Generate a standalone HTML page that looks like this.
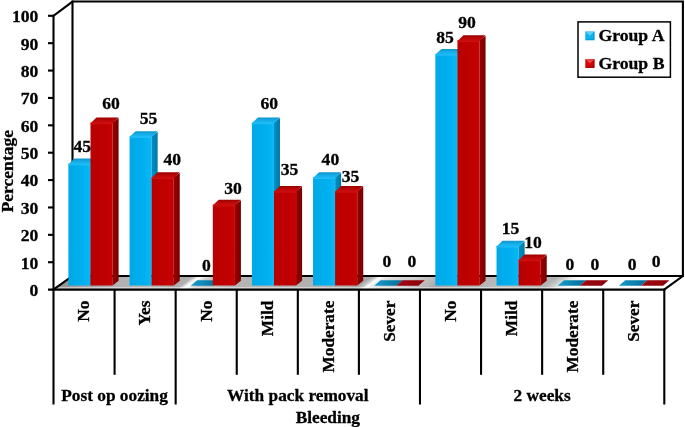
<!DOCTYPE html><html><head><meta charset="utf-8"><title>Chart</title><style>html,body{margin:0;padding:0;background:#fff}svg{display:block}text{font-family:"Liberation Serif",serif;font-weight:bold;fill:#000;stroke:#000;stroke-width:0.3px}</style></head><body>
<svg width="685" height="427" viewBox="0 0 685 427">
<defs>
<linearGradient id="fl" gradientUnits="userSpaceOnUse" x1="53.5" y1="289.7" x2="275.2" y2="590.5"><stop offset="-0.0008" stop-color="#939393"/><stop offset="0.0421" stop-color="#a2a2a2"/><stop offset="0.0897" stop-color="#b2b2b2"/><stop offset="0.1532" stop-color="#b6b6b6"/><stop offset="0.1849" stop-color="#acacac"/><stop offset="0.1944" stop-color="#b4b4b4"/><stop offset="0.2000" stop-color="#e4e4e4"/><stop offset="0.2048" stop-color="#ffffff"/><stop offset="0.2095" stop-color="#eeeeee"/><stop offset="0.2183" stop-color="#cecece"/><stop offset="0.2325" stop-color="#c2c2c2"/><stop offset="0.2802" stop-color="#b4b4b4"/><stop offset="0.4548" stop-color="#b0b0b0"/><stop offset="0.4770" stop-color="#a8a8a8"/><stop offset="0.4849" stop-color="#cccccc"/><stop offset="0.4913" stop-color="#ffffff"/><stop offset="0.4976" stop-color="#ececec"/><stop offset="0.5119" stop-color="#dcdcdc"/><stop offset="0.5500" stop-color="#cecece"/><stop offset="0.5817" stop-color="#b8b8b8"/><stop offset="0.6008" stop-color="#a6a6a6"/><stop offset="0.7087" stop-color="#bebebe"/><stop offset="0.7722" stop-color="#b2b2b2"/><stop offset="0.7849" stop-color="#cccccc"/><stop offset="0.7976" stop-color="#ececec"/><stop offset="0.8135" stop-color="#fbfbfb"/><stop offset="0.8357" stop-color="#ffffff"/><stop offset="0.9992" stop-color="#ffffff"/></linearGradient>
<linearGradient id="bf" x1="0" y1="0" x2="1" y2="0"><stop offset="0" stop-color="#00a8e6"/><stop offset="0.7" stop-color="#00b0f0"/><stop offset="1" stop-color="#0cb8f6"/></linearGradient>
<linearGradient id="rf" x1="0" y1="0" x2="1" y2="0"><stop offset="0" stop-color="#b80000"/><stop offset="0.7" stop-color="#c00000"/><stop offset="1" stop-color="#c60202"/></linearGradient>
<linearGradient id="bt" x1="0" y1="0" x2="0" y2="1"><stop offset="0" stop-color="#0c94cc"/><stop offset="0.55" stop-color="#16aee8"/><stop offset="1" stop-color="#1cbaf6"/></linearGradient>
<linearGradient id="rt" x1="0" y1="0" x2="0" y2="1"><stop offset="0" stop-color="#9a0000"/><stop offset="0.55" stop-color="#bc0808"/><stop offset="1" stop-color="#cc0c0c"/></linearGradient>
<linearGradient id="bz" x1="0" y1="0" x2="1" y2="0"><stop offset="0" stop-color="#1a9ccc"/><stop offset="1" stop-color="#006c96"/></linearGradient>
<linearGradient id="rz" x1="0" y1="0" x2="1" y2="0"><stop offset="0" stop-color="#a00814"/><stop offset="1" stop-color="#8c0008"/></linearGradient>
<linearGradient id="bs" x1="0" y1="0" x2="1" y2="0"><stop offset="0" stop-color="#0092c6"/><stop offset="1" stop-color="#0078a6"/></linearGradient>
<linearGradient id="rs" x1="0" y1="0" x2="1" y2="0"><stop offset="0" stop-color="#980000"/><stop offset="1" stop-color="#780000"/></linearGradient>
</defs>
<rect width="685" height="427" fill="#fff"/>
<polygon points="53.5,289.6 72.5,276.0 682.9,276.0 664.3,289.6" fill="url(#fl)"/>
<polygon points="56.5,287.0 667.3,287.0 664.3,289.0 53.5,289.0" fill="#fff" opacity="0.45"/>
<g stroke="#000" stroke-width="2.1" fill="none" stroke-linecap="square" stroke-linejoin="miter">
<path d="M53.5,15.8 L72.5,1.55 L682.9,1.55 L682.9,276.0 L664.3,289.6"/>
<path d="M72.5,1.55 L72.5,276.0 L682.9,276.0"/>
<path d="M72.5,276.0 L53.5,289.6"/>
</g>
<rect x="68.40" y="163.66" width="22.1" height="121.84" fill="url(#bf)"/>
<polygon points="90.50,163.66 96.50,159.06 96.50,280.80 90.50,285.5" fill="url(#bs)"/>
<rect x="68.40" y="163.96" width="22.1" height="1.3" fill="#2cc2fa" opacity="0.8"/>
<polygon points="68.40,164.25 74.40,158.56 96.50,158.56 90.50,164.25" fill="url(#bt)"/>
<rect x="90.50" y="122.54" width="22.1" height="162.96" fill="url(#rf)"/>
<polygon points="112.60,122.54 118.60,117.94 118.60,280.80 112.60,285.5" fill="url(#rs)"/>
<rect x="90.50" y="122.84" width="22.1" height="1.3" fill="#d41414" opacity="0.8"/>
<polygon points="90.50,123.14 96.50,117.44 118.60,117.44 112.60,123.14" fill="url(#rt)"/>
<rect x="129.56" y="136.25" width="22.1" height="149.25" fill="url(#bf)"/>
<polygon points="151.66,136.25 157.66,131.65 157.66,280.80 151.66,285.5" fill="url(#bs)"/>
<rect x="129.56" y="136.55" width="22.1" height="1.3" fill="#2cc2fa" opacity="0.8"/>
<polygon points="129.56,136.84 135.56,131.15 157.66,131.15 151.66,136.84" fill="url(#bt)"/>
<rect x="151.66" y="177.36" width="22.1" height="108.14" fill="url(#rf)"/>
<polygon points="173.76,177.36 179.76,172.76 179.76,280.80 173.76,285.5" fill="url(#rs)"/>
<rect x="151.66" y="177.66" width="22.1" height="1.3" fill="#d41414" opacity="0.8"/>
<polygon points="151.66,177.96 157.66,172.26 179.76,172.26 173.76,177.96" fill="url(#rt)"/>
<polygon points="190.72,285.8 197.12,280.2 219.22,280.2 212.82,285.8" fill="url(#bz)"/>
<rect x="212.82" y="204.77" width="22.1" height="80.73" fill="url(#rf)"/>
<polygon points="234.92,204.77 240.92,200.17 240.92,280.80 234.92,285.5" fill="url(#rs)"/>
<rect x="212.82" y="205.07" width="22.1" height="1.3" fill="#d41414" opacity="0.8"/>
<polygon points="212.82,205.37 218.82,199.67 240.92,199.67 234.92,205.37" fill="url(#rt)"/>
<rect x="251.88" y="122.54" width="22.1" height="162.96" fill="url(#bf)"/>
<polygon points="273.98,122.54 279.98,117.94 279.98,280.80 273.98,285.5" fill="url(#bs)"/>
<rect x="251.88" y="122.84" width="22.1" height="1.3" fill="#2cc2fa" opacity="0.8"/>
<polygon points="251.88,123.14 257.88,117.44 279.98,117.44 273.98,123.14" fill="url(#bt)"/>
<rect x="273.98" y="191.06" width="22.1" height="94.44" fill="url(#rf)"/>
<polygon points="296.08,191.06 302.08,186.47 302.08,280.80 296.08,285.5" fill="url(#rs)"/>
<rect x="273.98" y="191.37" width="22.1" height="1.3" fill="#d41414" opacity="0.8"/>
<polygon points="273.98,191.66 279.98,185.97 302.08,185.97 296.08,191.66" fill="url(#rt)"/>
<rect x="313.04" y="177.36" width="22.1" height="108.14" fill="url(#bf)"/>
<polygon points="335.14,177.36 341.14,172.76 341.14,280.80 335.14,285.5" fill="url(#bs)"/>
<rect x="313.04" y="177.66" width="22.1" height="1.3" fill="#2cc2fa" opacity="0.8"/>
<polygon points="313.04,177.96 319.04,172.26 341.14,172.26 335.14,177.96" fill="url(#bt)"/>
<rect x="335.14" y="191.06" width="22.1" height="94.44" fill="url(#rf)"/>
<polygon points="357.24,191.06 363.24,186.47 363.24,280.80 357.24,285.5" fill="url(#rs)"/>
<rect x="335.14" y="191.37" width="22.1" height="1.3" fill="#d41414" opacity="0.8"/>
<polygon points="335.14,191.66 341.14,185.97 363.24,185.97 357.24,191.66" fill="url(#rt)"/>
<polygon points="374.20,285.8 380.60,280.2 402.70,280.2 396.30,285.8" fill="url(#bz)"/>
<polygon points="396.30,285.8 402.70,280.2 424.80,280.2 418.40,285.8" fill="url(#rz)"/>
<rect x="435.36" y="54.01" width="22.1" height="231.49" fill="url(#bf)"/>
<polygon points="457.46,54.01 463.46,49.41 463.46,280.80 457.46,285.5" fill="url(#bs)"/>
<rect x="435.36" y="54.31" width="22.1" height="1.3" fill="#2cc2fa" opacity="0.8"/>
<polygon points="435.36,54.61 441.36,48.91 463.46,48.91 457.46,54.61" fill="url(#bt)"/>
<rect x="457.46" y="40.31" width="22.1" height="245.19" fill="url(#rf)"/>
<polygon points="479.56,40.31 485.56,35.71 485.56,280.80 479.56,285.5" fill="url(#rs)"/>
<rect x="457.46" y="40.61" width="22.1" height="1.3" fill="#d41414" opacity="0.8"/>
<polygon points="457.46,40.91 463.46,35.21 485.56,35.21 479.56,40.91" fill="url(#rt)"/>
<rect x="496.52" y="245.88" width="22.1" height="39.62" fill="url(#bf)"/>
<polygon points="518.62,245.88 524.62,241.28 524.62,280.80 518.62,285.5" fill="url(#bs)"/>
<rect x="496.52" y="246.19" width="22.1" height="1.3" fill="#2cc2fa" opacity="0.8"/>
<polygon points="496.52,246.48 502.52,240.78 524.62,240.78 518.62,246.48" fill="url(#bt)"/>
<rect x="518.62" y="259.59" width="22.1" height="25.91" fill="url(#rf)"/>
<polygon points="540.72,259.59 546.72,254.99 546.72,280.80 540.72,285.5" fill="url(#rs)"/>
<rect x="518.62" y="259.89" width="22.1" height="1.3" fill="#d41414" opacity="0.8"/>
<polygon points="518.62,260.19 524.62,254.49 546.72,254.49 540.72,260.19" fill="url(#rt)"/>
<polygon points="557.68,285.8 564.08,280.2 586.18,280.2 579.78,285.8" fill="url(#bz)"/>
<polygon points="579.78,285.8 586.18,280.2 608.28,280.2 601.88,285.8" fill="url(#rz)"/>
<polygon points="618.84,285.8 625.24,280.2 647.34,280.2 640.94,285.8" fill="url(#bz)"/>
<polygon points="640.94,285.8 647.34,280.2 669.44,280.2 663.04,285.8" fill="url(#rz)"/>
<g stroke="#000" stroke-width="2.1" fill="none" stroke-linecap="butt">
<path d="M53.5,14.8 L53.5,290.6"/>
<path d="M48.0,289.6 L665.3,289.6"/>
<path d="M48.0,262.22 L53.5,262.22"/>
<path d="M48.0,234.84 L53.5,234.84"/>
<path d="M48.0,207.46 L53.5,207.46"/>
<path d="M48.0,180.08 L53.5,180.08"/>
<path d="M48.0,152.70 L53.5,152.70"/>
<path d="M48.0,125.32 L53.5,125.32"/>
<path d="M48.0,97.94 L53.5,97.94"/>
<path d="M48.0,70.56 L53.5,70.56"/>
<path d="M48.0,43.18 L53.5,43.18"/>
<path d="M48.0,15.80 L53.5,15.80"/>
<path d="M53.50,289.6 L53.50,404.5"/>
<path d="M114.58,289.6 L114.58,374.8"/>
<path d="M175.66,289.6 L175.66,404.5"/>
<path d="M236.74,289.6 L236.74,374.8"/>
<path d="M297.82,289.6 L297.82,374.8"/>
<path d="M358.90,289.6 L358.90,374.8"/>
<path d="M419.98,289.6 L419.98,404.5"/>
<path d="M481.06,289.6 L481.06,374.8"/>
<path d="M542.14,289.6 L542.14,374.8"/>
<path d="M603.22,289.6 L603.22,374.8"/>
<path d="M664.30,289.6 L664.30,404.5"/>
</g>
<text transform="translate(38.40,296.00) scale(1,1.0)" font-size="17.6" text-anchor="end">0</text>
<text transform="translate(38.40,268.62) scale(1,1.0)" font-size="17.6" text-anchor="end">10</text>
<text transform="translate(38.40,241.24) scale(1,1.0)" font-size="17.6" text-anchor="end">20</text>
<text transform="translate(38.40,213.86) scale(1,1.0)" font-size="17.6" text-anchor="end">30</text>
<text transform="translate(38.40,186.48) scale(1,1.0)" font-size="17.6" text-anchor="end">40</text>
<text transform="translate(38.40,159.10) scale(1,1.0)" font-size="17.6" text-anchor="end">50</text>
<text transform="translate(38.40,131.72) scale(1,1.0)" font-size="17.6" text-anchor="end">60</text>
<text transform="translate(38.40,104.34) scale(1,1.0)" font-size="17.6" text-anchor="end">70</text>
<text transform="translate(38.40,76.96) scale(1,1.0)" font-size="17.6" text-anchor="end">80</text>
<text transform="translate(38.40,49.58) scale(1,1.0)" font-size="17.6" text-anchor="end">90</text>
<text transform="translate(38.40,22.20) scale(1,1.0)" font-size="17.6" text-anchor="end">100</text>
<text transform="translate(13.40,171.20) rotate(-90) scale(1,1.0)" font-size="17.6" text-anchor="middle">Percentage</text>
<text transform="translate(89.34,300.60) rotate(-90) scale(1,1.0)" font-size="17.3" text-anchor="end">No</text>
<text transform="translate(150.42,300.60) rotate(-90) scale(1,1.0)" font-size="17.3" text-anchor="end">Yes</text>
<text transform="translate(211.50,300.60) rotate(-90) scale(1,1.0)" font-size="17.3" text-anchor="end">No</text>
<text transform="translate(272.58,300.60) rotate(-90) scale(1,1.0)" font-size="17.3" text-anchor="end">Mild</text>
<text transform="translate(333.66,300.60) rotate(-90) scale(1,1.0)" font-size="17.3" text-anchor="end">Moderate</text>
<text transform="translate(394.74,300.60) rotate(-90) scale(1,1.0)" font-size="17.3" text-anchor="end">Sever</text>
<text transform="translate(455.82,300.60) rotate(-90) scale(1,1.0)" font-size="17.3" text-anchor="end">No</text>
<text transform="translate(516.90,300.60) rotate(-90) scale(1,1.0)" font-size="17.3" text-anchor="end">Mild</text>
<text transform="translate(577.98,300.60) rotate(-90) scale(1,1.0)" font-size="17.3" text-anchor="end">Moderate</text>
<text transform="translate(639.06,300.60) rotate(-90) scale(1,1.0)" font-size="17.3" text-anchor="end">Sever</text>
<text transform="translate(114.58,400.70) scale(1,1.0)" font-size="17.3" text-anchor="middle">Post op oozing</text>
<text transform="translate(297.82,400.70) scale(1,1.0)" font-size="17.3" text-anchor="middle">With pack removal</text>
<text transform="translate(327.80,422.70) scale(1,1.0)" font-size="17.3" text-anchor="middle">Bleeding</text>
<text transform="translate(542.14,400.70) scale(1,1.0)" font-size="17.3" text-anchor="middle">2 weeks</text>
<text transform="translate(82.20,152.20) scale(1,1.0)" font-size="17.6" text-anchor="middle">45</text>
<text transform="translate(111.00,109.20) scale(1,1.0)" font-size="17.6" text-anchor="middle">60</text>
<text transform="translate(148.50,124.10) scale(1,1.0)" font-size="17.6" text-anchor="middle">55</text>
<text transform="translate(172.20,164.90) scale(1,1.0)" font-size="17.6" text-anchor="middle">40</text>
<text transform="translate(206.30,270.90) scale(1,1.0)" font-size="17.6" text-anchor="middle">0</text>
<text transform="translate(233.00,193.90) scale(1,1.0)" font-size="17.6" text-anchor="middle">30</text>
<text transform="translate(269.20,108.90) scale(1,1.0)" font-size="17.6" text-anchor="middle">60</text>
<text transform="translate(289.60,174.90) scale(1,1.0)" font-size="17.6" text-anchor="middle">35</text>
<text transform="translate(330.40,164.90) scale(1,1.0)" font-size="17.6" text-anchor="middle">40</text>
<text transform="translate(350.60,182.40) scale(1,1.0)" font-size="17.6" text-anchor="middle">35</text>
<text transform="translate(387.00,266.60) scale(1,1.0)" font-size="17.6" text-anchor="middle">0</text>
<text transform="translate(412.00,266.60) scale(1,1.0)" font-size="17.6" text-anchor="middle">0</text>
<text transform="translate(445.00,42.50) scale(1,1.0)" font-size="17.6" text-anchor="middle">85</text>
<text transform="translate(467.00,27.90) scale(1,1.0)" font-size="17.6" text-anchor="middle">90</text>
<text transform="translate(510.60,234.10) scale(1,1.0)" font-size="17.6" text-anchor="middle">15</text>
<text transform="translate(533.00,247.50) scale(1,1.0)" font-size="17.6" text-anchor="middle">10</text>
<text transform="translate(570.00,269.60) scale(1,1.0)" font-size="17.6" text-anchor="middle">0</text>
<text transform="translate(595.00,269.60) scale(1,1.0)" font-size="17.6" text-anchor="middle">0</text>
<text transform="translate(632.20,270.40) scale(1,1.0)" font-size="17.6" text-anchor="middle">0</text>
<text transform="translate(656.10,267.40) scale(1,1.0)" font-size="17.6" text-anchor="middle">0</text>
<rect x="578.0" y="21.9" width="92.4" height="55.3" fill="#fff" stroke="#000" stroke-width="1.5"/>
<rect x="585.3" y="31.5" width="9.2" height="8.7" fill="#0cb2f0"/>
<polygon points="585.3,31.5 594.5,31.5 589.9,35.85" fill="#5ccef8"/>
<polygon points="585.3,40.2 594.5,40.2 594.5,31.5 593.0,33.0 593.0,38.7 586.8,38.7" fill="#0090c8" opacity="0.55"/>
<rect x="585.3" y="59.2" width="9.2" height="8.7" fill="#d00404"/>
<polygon points="585.3,59.2 594.5,59.2 589.9,63.550000000000004" fill="#ec4444"/>
<polygon points="585.3,67.9 594.5,67.9 594.5,59.2 593.0,60.7 593.0,66.4 586.8,66.4" fill="#980000" opacity="0.55"/>
<text transform="translate(598.40,41.40) scale(1,1.0)" font-size="17.7" text-anchor="start">Group A</text>
<text transform="translate(598.40,69.20) scale(1,1.0)" font-size="17.7" text-anchor="start">Group B</text>
</svg></body></html>
